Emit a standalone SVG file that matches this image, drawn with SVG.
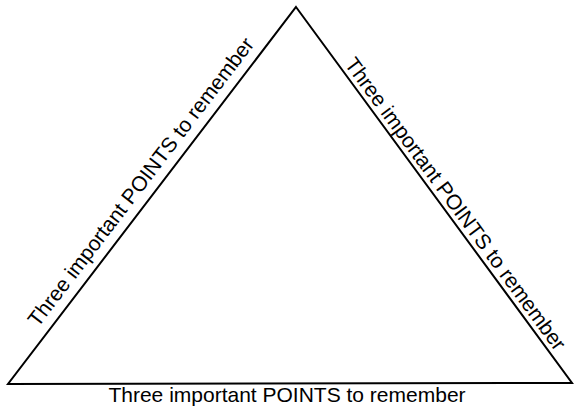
<svg xmlns="http://www.w3.org/2000/svg" width="574" height="410" viewBox="0 0 574 410">
  <style>
    .edge { fill: none; stroke: #000; stroke-width: 2; stroke-linejoin: miter; }
    .lbl { font-family: "Liberation Sans", Arial, sans-serif; font-size: 21px; fill: #000; text-anchor: middle; }
  </style>
  <rect width="574" height="410" fill="#fff"/>
  <g id="triangle">
    <polygon class="edge" points="296,7 572,383 8,384"/>
  </g>
  <g id="label-left">
    <text class="lbl" transform="translate(146.5,186.2) rotate(-52.6)">Three important POINTS to remember</text>
  </g>
  <g id="label-right">
    <text class="lbl" transform="translate(449.8,208.1) rotate(53.7)">Three important POINTS to remember</text>
  </g>
  <g id="label-bottom">
    <text class="lbl" x="287" y="402">Three important POINTS to remember</text>
  </g>
</svg>
